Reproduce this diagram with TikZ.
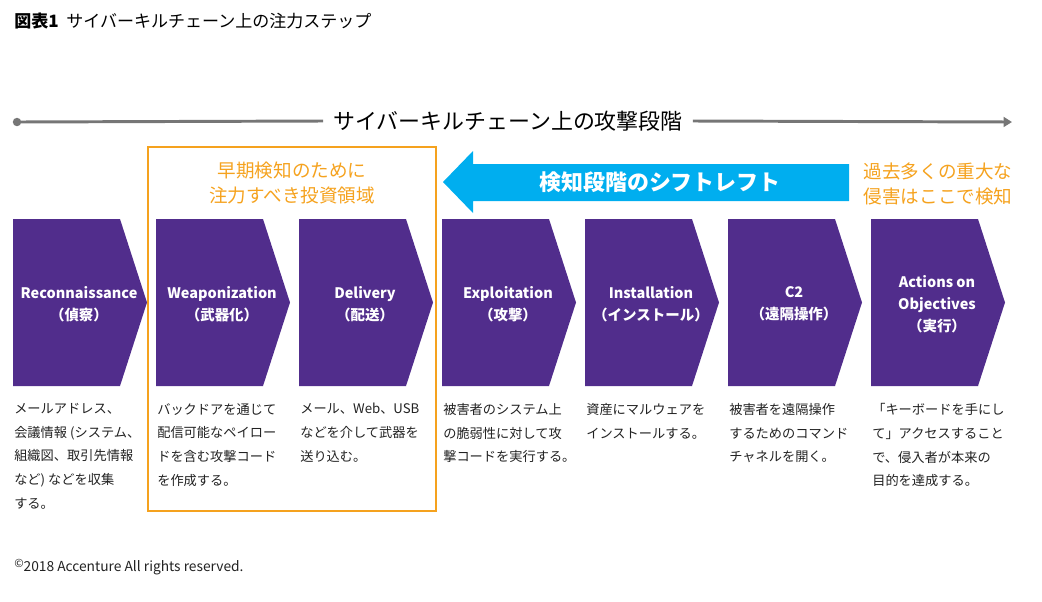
\documentclass[tikz,border=0pt]{standalone}
\usepackage{fontspec}
\setmainfont{Noto Sans CJK JP}
\usetikzlibrary{arrows.meta}
\definecolor{kcpurple}{RGB}{81,45,140}
\definecolor{kcorange}{RGB}{245,162,30}
\definecolor{kcblue}{RGB}{0,174,239}
\definecolor{kcgray}{RGB}{118,118,118}
\definecolor{kctext}{RGB}{34,34,34}
\tikzset{
  phaselabel/.style={text=white,inner sep=0pt,align=center,
    font=\fontsize{10.3}{15.6}\selectfont\bfseries},
  desc/.style={anchor=north west,inner sep=0pt,text=kctext,align=left,
    font=\fontsize{9.4}{16.9}\selectfont},
  note/.style={text=kcorange,inner sep=0pt,align=center,
    font=\fontsize{13.2}{17.4}\selectfont},
  stageline/.style={kcgray,line width=2.1pt},
}
\begin{document}
\begin{tikzpicture}[x=0.025cm,y=-0.025cm]
    \useasboundingbox (0,0) rectangle (1042,601);
    % title
    \node[anchor=west,inner sep=0pt,font=\fontsize{12.1}{14}\selectfont] (title) at (14,21)
      {\textbf{図表1}\hspace{0.45em}サイバーキルチェーン上の注力ステップ};
    % attack stage line
    \coordinate (lstart) at (17,122);
    \coordinate (lend) at (1012,122);
    \fill[kcgray] (lstart) circle (3pt);
    \node[inner sep=0pt,font=\fontsize{15.6}{18}\selectfont] (stage) at (508,121)
      {サイバーキルチェーン上の攻撃段階};
    \draw[stageline] (lstart) -- ([xshift=-7pt]stage.west);
    \draw[stageline,-{Triangle[length=6pt,width=7pt]}] ([xshift=7pt]stage.east) -- (lend);
    % focus box
    \draw[kcorange,line width=1.4pt] (148,147) rectangle (436,511);
    \node[note] (focus) at (292,183) {早期検知のために\\注力すべき投資領域};
    \node[note] (past) at (938,184) {過去多くの重大な\\侵害はここで検知};
    % shift left arrow
    \fill[kcblue] (443,182) -- (473,151) -- (473,164) -- (849,164) -- (849,201)
      -- (473,201) -- (473,213) -- cycle;
    \node[text=white,inner sep=0pt,font=\fontsize{15.6}{18}\selectfont\bfseries] (shift)
      at (660,182) {検知段階のシフトレフト};
    % phases
    \foreach \x/\nm/\lbl/\txt in {
      13/recon/{Reconnaissance\\（偵察）}/{メールアドレス、\\会議情報 (システム、\\組織図、取引先情報\\など) などを収集\\する。},
      156/weapon/{Weaponization\\（武器化）}/{バックドアを通じて\\配信可能なペイロー\\ドを含む攻撃コード\\を作成する。},
      299/deliver/{Delivery\\（配送）}/{メール、Web、USB\\などを介して武器を\\送り込む。},
      442/exploit/{Exploitation\\（攻撃）}/{被害者のシステム上\\の脆弱性に対して攻\\撃コードを実行する。},
      585/install/{Installation\\（インストール）}/{資産にマルウェアを\\インストールする。},
      728/ctwo/{C2\\（遠隔操作）}/{被害者を遠隔操作\\するためのコマンド\\チャネルを開く。},
      871/actions/{Actions on\\Objectives\\（実行）}/{「キーボードを手にし\\て」アクセスすること\\で、侵入者が本来の\\目的を達成する。}} {
      \fill[kcpurple] (\x,219) -- ++(107,0) -- ++(27,83.5) -- ++(-27,83.5) -- ++(-107,0) -- cycle;
      \node[phaselabel] (\nm) at (\x+66,304) {\lbl};
      \node[desc] (\nm-desc) at (\x+1,403) {\txt};
    }
    % footer
    \node[anchor=west,inner sep=0pt,text=kctext,font=\fontsize{9.8}{11}\selectfont] (copy)
      at (14,567) {\raisebox{0.5ex}{\footnotesize ©}2018 Accenture All rights reserved.};
  \end{tikzpicture}
\end{document}
